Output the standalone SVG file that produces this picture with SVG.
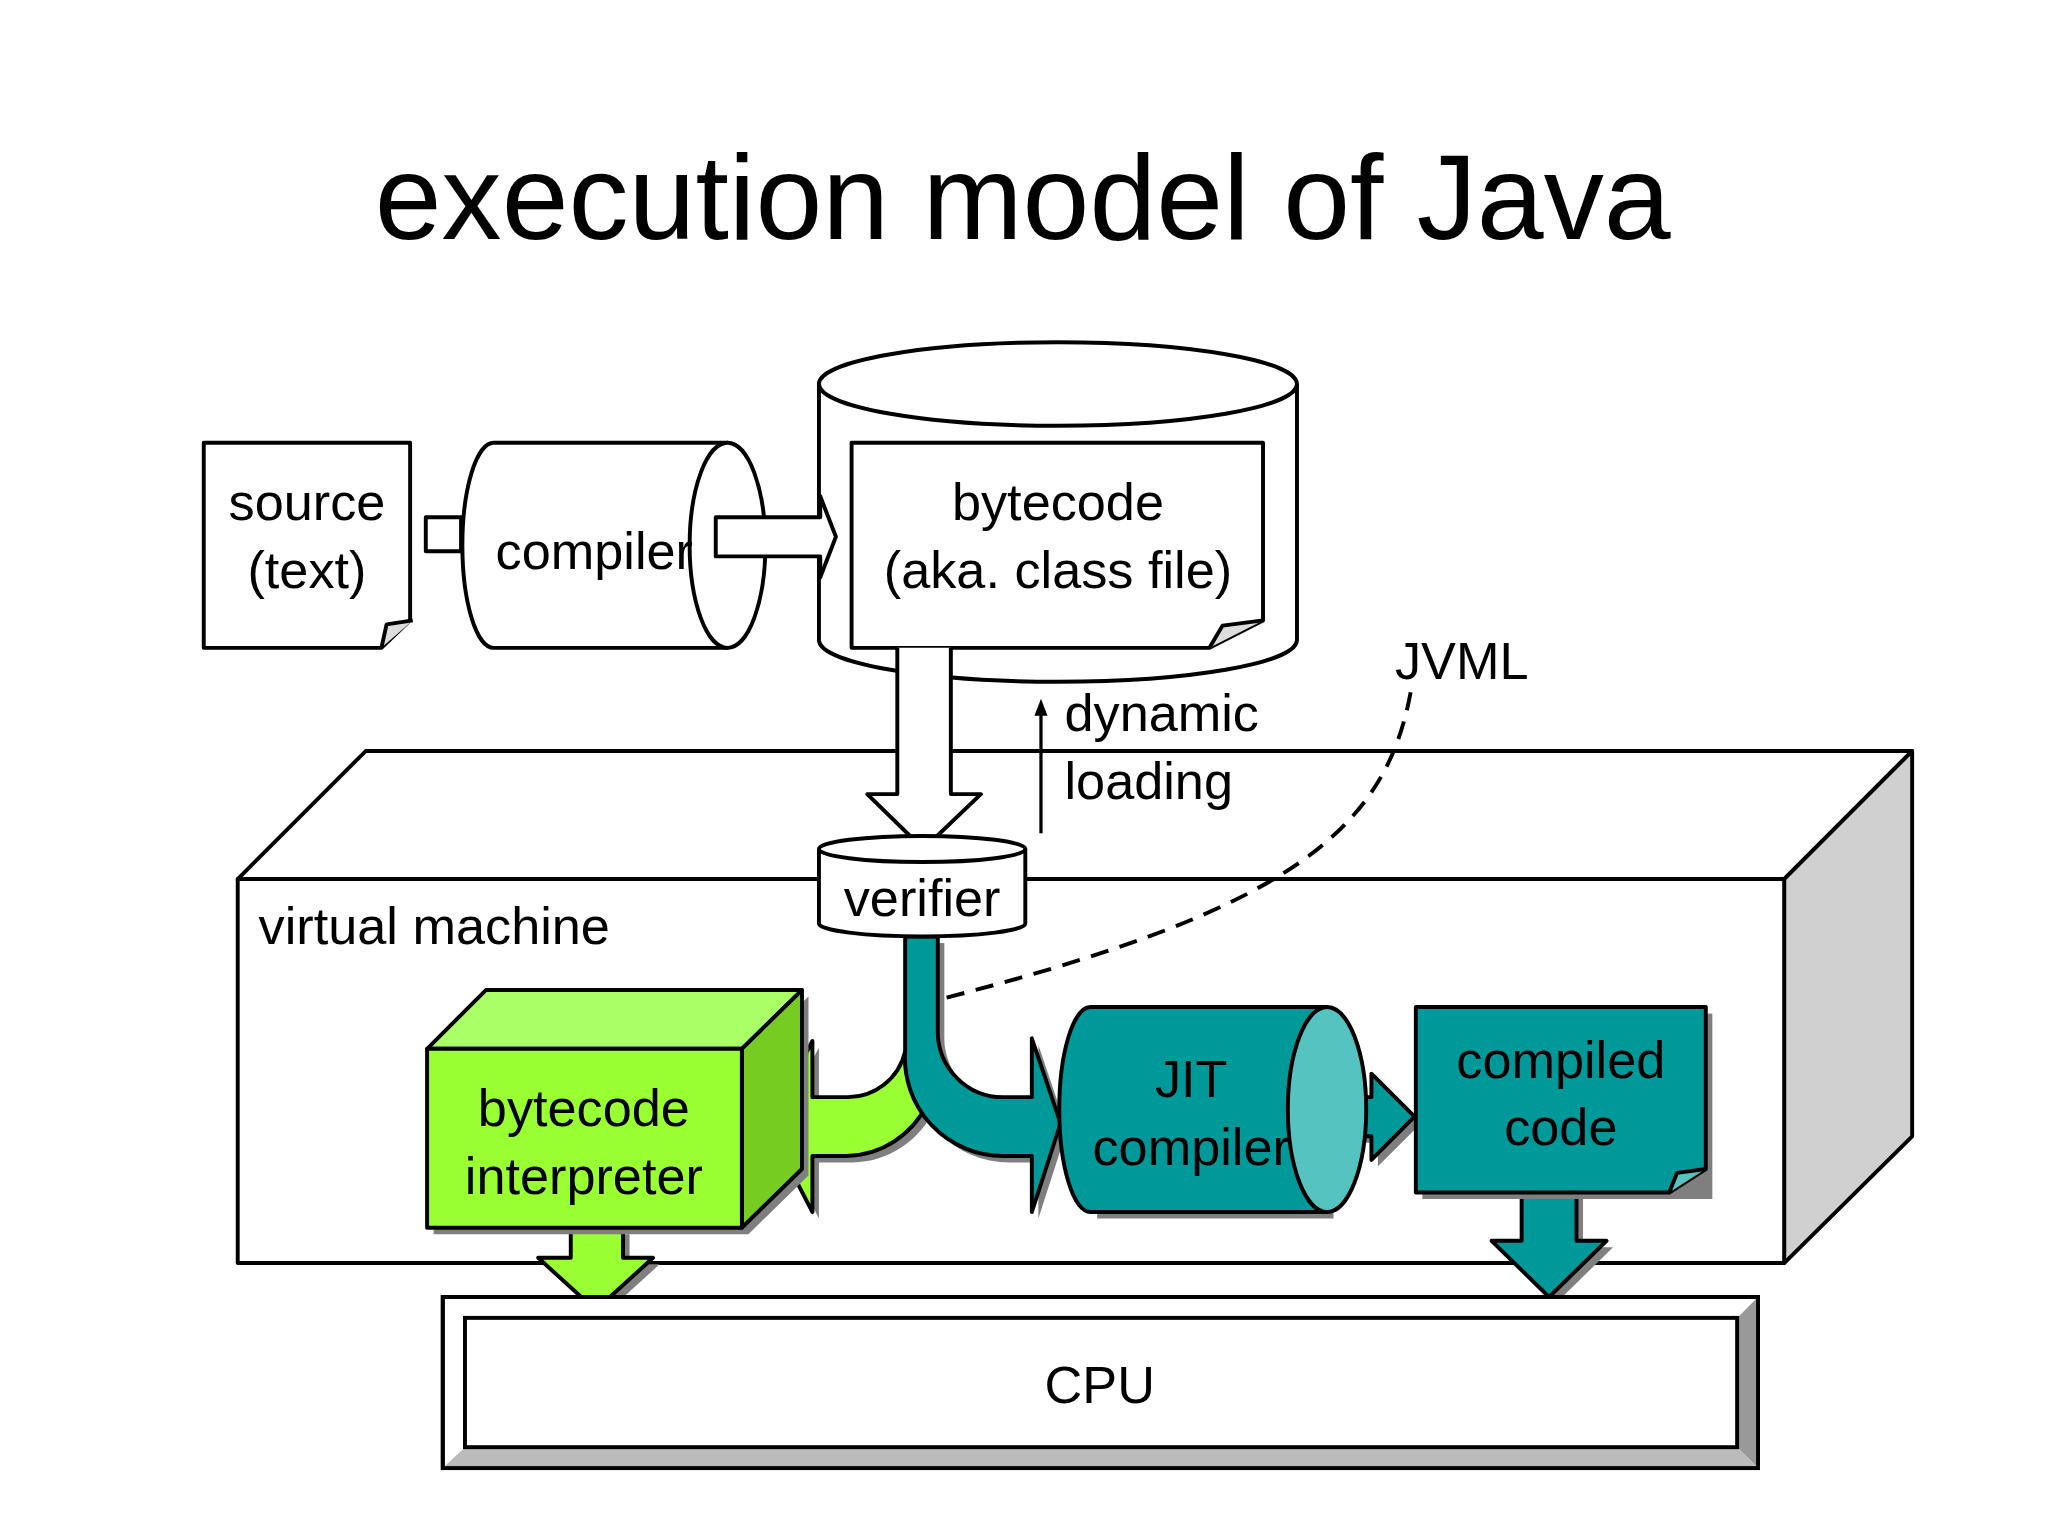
<svg xmlns="http://www.w3.org/2000/svg" width="2048" height="1536" viewBox="0 0 2048 1536">
<style>
.t{font-family:"Liberation Sans",Arial,sans-serif;font-size:40px;fill:#000;text-anchor:middle}
.o{stroke:#000;stroke-width:3;stroke-linejoin:round}
.sh{fill:#7f7f7f}
</style>
<rect width="2048" height="1536" fill="#fff"/>
<g transform="scale(1.30612)">
<text x="783" y="183" class="t" style="font-size:92px">execution model of Java</text>
<g id="vm">
<polygon class="o" points="182,673 280,575 1464,575 1366,673" fill="#fff"/>
<polygon class="o" points="1366,673 1464,575 1464,870 1366,967" fill="#d0d0d0"/>
<rect class="o" x="182" y="673" width="1184" height="294" fill="#fff"/>
<text x="198" y="723" class="t" style="text-anchor:start">virtual machine</text>
</g>
<g id="source">
<path class="o" d="M156,339 H314 V475 L292,496 H156 Z" fill="#fff"/>
<path class="o" d="M292,496 L296,478 L316,475" fill="#ddd"/>
<text x="235" y="398" class="t">source</text>
<text x="235" y="450" class="t">(text)</text>
</g>
<g id="bigcyl">
<path class="o" d="M627,294 V490 A183,32 0 0 0 993,490 V294" fill="#fff"/>
<ellipse class="o" cx="810" cy="294" rx="183" ry="32" fill="#fff"/>
</g>
<g id="bytecode">
<path class="o" d="M652,339 H967 V475 L926,496 H652 Z" fill="#fff"/>
<path class="o" d="M926,496 L936,479 L967,475" fill="#ddd"/>
<text x="810" y="398" class="t">bytecode</text>
<text x="810" y="450" class="t">(aka. class file)</text>
</g>
<g id="compiler">
<rect class="o" x="326" y="396" width="27" height="26" fill="#fff"/>
<path class="o" d="M378,339 H557 V496 H378 A24,78.5 0 0 1 378,339 Z" fill="#fff"/>
<ellipse class="o" cx="557" cy="417.5" rx="29" ry="78.5" fill="#fff"/>
<text x="455" y="436" class="t">compiler</text>
</g>
<g id="connectors">
<path class="o" d="M548,396 H628 V380 L640,411 L628,442 V426 H548 Z" fill="#fff"/>
<path class="o" d="M687,496 V608 H664 L707,650 L751,608 H728 V496" fill="#fff"/>
<line x1="797" y1="638" x2="797" y2="545" stroke="#000" stroke-width="2.5"/>
<path d="M797,535 L792,548 L802,548 Z" fill="#000"/>
<path d="M1080,530 C1060,640 980,700 708,768" fill="none" stroke="#000" stroke-width="3" stroke-dasharray="14,9"/>
<path class="sh" d="M698,810 A45,45 0 0 1 653,845 L627,845 L627,802 L593,867 L627,933 L627,890 L653,890 A70,70 0 0 0 715,850 Z"/>
<path class="o" d="M693,805 A45,45 0 0 1 648,840 L622,840 L622,797 L588,862 L622,928 L622,885 L648,885 A70,70 0 0 0 710,845 Z" fill="#99ff33"/>
<path class="sh" d="M698,722 V810 A75,75 0 0 0 773,890 H795 V933 L817,865 L795,800 V845 H773 A50,50 0 0 1 723,795 V722 Z"/>
<path class="o" d="M693,717 V805 A75,75 0 0 0 768,885 H790 V928 L812,860 L790,795 V840 H768 A50,50 0 0 1 718,790 V717 Z" fill="#009999"/>
<path class="sh" d="M442,945 V968 H417 L461,1008 L505,968 H482 V945 Z"/>
<path class="o" d="M437,940 V963 H412 L456,1003 L500,963 H477 V940 Z" fill="#99ff33"/>
<path class="sh" d="M1023,845 H1055 V827 L1088,860 L1055,893 V875 H1023 Z"/>
<path class="o" d="M1018,840 H1050 V822 L1083,855 L1050,888 V870 H1018 Z" fill="#009999"/>
<path class="sh" d="M1170,918 V955 H1147 L1191,998 L1235,955 H1212 V918 Z"/>
<path class="o" d="M1165,913 V950 H1142 L1186,993 L1230,950 H1207 V913 Z" fill="#009999"/>
<text x="1068" y="520" class="t" style="text-anchor:start">JVML</text>
<text x="815" y="560" class="t" style="text-anchor:start">dynamic</text>
<text x="815" y="612" class="t" style="text-anchor:start">loading</text>
</g>
<g id="verifier">
<path class="o" d="M627,650 V707 A79,10 0 0 0 785,707 V650" fill="#fff"/>
<ellipse class="o" cx="706" cy="650" rx="79" ry="10" fill="#fff"/>
<text x="706" y="701" class="t">verifier</text>
</g>
<g id="interpreter">
<polygon class="sh" points="332,808 573,808 619,763 619,900 573,945 332,945"/>
<polygon class="o" points="327,803 372,758 614,758 568,803" fill="#aaff66"/>
<polygon class="o" points="568,803 614,758 614,895 568,940" fill="#77cc22"/>
<rect class="o" x="327" y="803" width="241" height="137" fill="#99ff33"/>
<text x="447" y="862" class="t">bytecode</text>
<text x="447" y="914" class="t">interpreter</text>
</g>
<g id="jit">
<path class="sh" d="M840,776 H1021 V933 H840 Z"/>
<path class="o" d="M835,771 H1016 V928 H835 A24,78.5 0 0 1 835,771 Z" fill="#009999"/>
<ellipse class="o" cx="1016" cy="849.5" rx="30" ry="78.5" fill="#55c4c0"/>
<text x="912" y="840" class="t">JIT</text>
<text x="912" y="892" class="t">compiler</text>
</g>
<g id="compiled">
<rect class="sh" x="1089" y="776" width="222" height="142"/>
<path class="o" d="M1084,771 H1306 V895 L1278,913 H1084 Z" fill="#009999"/>
<path class="o" d="M1278,913 L1284,898 L1306,895" fill="#55c4c0"/>
<text x="1195" y="825" class="t">compiled</text>
<text x="1195" y="877" class="t">code</text>
</g>
<g id="cpu">
<rect x="339" y="993" width="1007" height="131" fill="#fff" stroke="#000" stroke-width="3"/>
<polygon points="1330,1009 1346,993 1346,1124 1330,1108" fill="#999"/>
<polygon points="356,1108 1330,1108 1346,1124 339,1124" fill="#bbb"/>
<rect x="356" y="1009" width="974" height="99" fill="#fff" stroke="#000" stroke-width="3"/>
<rect x="339" y="993" width="1007" height="131" fill="none" stroke="#000" stroke-width="3"/>
<text x="842" y="1074" class="t">CPU</text>
</g>
</g>
</svg>
